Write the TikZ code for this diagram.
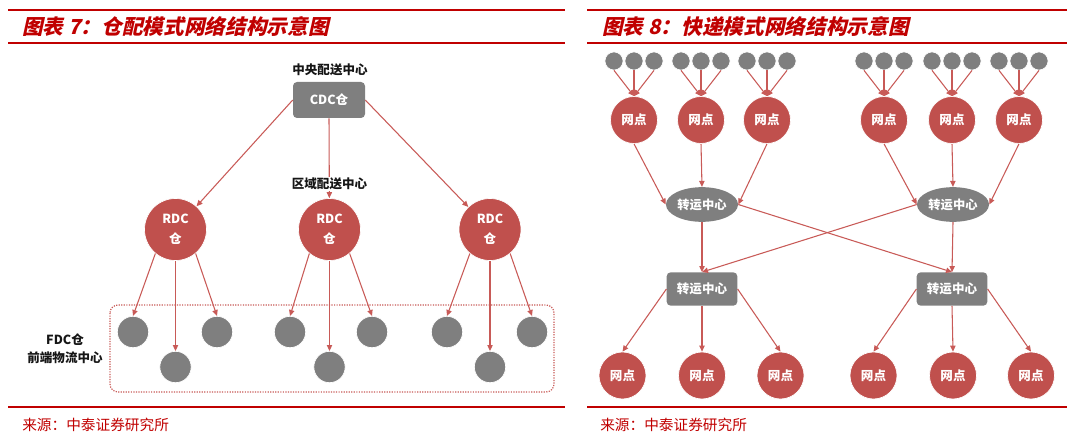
\documentclass[tikz,border=0pt]{standalone}
\usepackage{fontspec}
\usetikzlibrary{arrows.meta, positioning, shapes.geometric}
\newfontfamily\cjk{Noto Sans CJK SC}
\newfontfamily\cjkslant[FakeSlant=0.22]{Noto Sans CJK SC}
\definecolor{nodered}{HTML}{C0504D}
\definecolor{linkred}{HTML}{C85A57}
\definecolor{hubgray}{HTML}{7F7F7F}
\definecolor{titlered}{HTML}{C00000}
\definecolor{ink}{HTML}{161616}
\tikzset{
  font=\cjk,
  >={Triangle[length=4.5pt, width=4pt]},
  %
  depot/.style={circle, fill=nodered, draw=white, line width=0.5pt,
    text=white, inner sep=0pt, align=center,
    font=\cjk\bfseries\fontsize{9.4}{15}\selectfont},
  rdc/.style={depot, minimum size=46.5pt},
  wd/.style={depot, minimum size=35.25pt},
  fdc/.style={circle, fill=hubgray, draw=white, line width=0.5pt,
    minimum size=23.5pt, inner sep=0pt},
  dot/.style={fdc, minimum size=13.6pt},
  hubbox/.style={rectangle, rounded corners=3pt, fill=hubgray, text=white,
    inner sep=0pt, font=\cjk\bfseries\fontsize{9.4}{11}\selectfont},
  hubell/.style={ellipse, fill=hubgray, text=white, inner sep=0pt,
    minimum width=54pt, minimum height=26pt,
    font=\cjk\bfseries\fontsize{9.2}{11}\selectfont},
  %
  link/.style={draw=linkred, line width=0.8pt, ->},
  frame/.style={draw=linkred, line width=0.9pt, densely dotted, rounded corners=6pt},
  %
  tier/.style={text=ink, inner sep=1pt, align=center,
    font=\cjk\bfseries\fontsize{9.4}{13.5}\selectfont},
  heading/.style={text=titlered, anchor=west, inner sep=0pt,
    font=\cjkslant\bfseries\fontsize{15.5}{18}\selectfont},
  source/.style={text=titlered, anchor=west, inner sep=0pt,
    font=\cjk\fontsize{11}{13}\selectfont},
  thickrule/.style={draw=titlered, line width=2.2pt},
  thinrule/.style={draw=titlered, line width=0.8pt},
}
\begin{document}
\begin{tikzpicture}[x=0.75pt, y=-0.75pt]
\useasboundingbox (0,0) rectangle (1080,442);

% =========================================================================
% left panel: warehouse distribution
\begin{scope}
  \draw[thickrule] (8,10) -- (565,10);
  \draw[thinrule] (8,43) -- (565,43);
  \draw[thinrule] (8,407) -- (565,407);
  \node[heading] (titleL) at (22,27) {图表 7：仓配模式网络结构示意图};
  \node[source] (srcL) at (22,425) {来源：中泰证券研究所};

  \draw[frame] (110,305) rectangle (554,392);

  \node[hubbox, minimum width=54pt, minimum height=27pt] (cdc) at (329,100) {CDC仓};
  \node[rdc] (rdcL) at (175.5,229.5) {RDC\\仓};
  \node[rdc] (rdcM) at (329.5,229.5) {RDC\\仓};
  \node[rdc] (rdcR) at (490,229.5) {RDC\\仓};

  \node[fdc] (fdcL1) at (133,332) {};
  \node[fdc] (fdcL2) at (175.5,367) {};
  \node[fdc] (fdcL3) at (217,332) {};
  \node[fdc] (fdcM1) at (290,332) {};
  \node[fdc] (fdcM2) at (329.5,367) {};
  \node[fdc] (fdcM3) at (372,332) {};
  \node[fdc] (fdcR1) at (447,332) {};
  \node[fdc] (fdcR2) at (490,367) {};
  \node[fdc] (fdcR3) at (532,332) {};

  \draw[link] (cdc.west) -- (rdcL);
  \draw[link] (cdc.south) -- (rdcM);
  \draw[link] (cdc.east) -- (rdcR);

  \draw[link] (rdcL.230) -- (fdcL1.north);
  \draw[link] (rdcL.south) -- (fdcL2.north);
  \draw[link] (rdcL.310) -- (fdcL3.north);
  \draw[link] (rdcM.230) -- (fdcM1.north);
  \draw[link] (rdcM.south) -- (fdcM2.north);
  \draw[link] (rdcM.310) -- (fdcM3.north);
  \draw[link] (rdcR.230) -- (fdcR1.north);
  \draw[link] (rdcR.south) -- (fdcR2.north);
  \draw[link] (rdcR.310) -- (fdcR3.north);

  \node[tier] (lblCDC) at (330,70) {中央配送中心};
  \node[tier, fill=white] (lblRDC) at (329.5,184) {区域配送中心};
  \node[tier] (lblFDC) at (65,349) {FDC仓\\前端物流中心};
\end{scope}

% =========================================================================
% right panel: express delivery
\begin{scope}
  \draw[thickrule] (587,10) -- (1067,10);
  \draw[thinrule] (587,43) -- (1067,43);
  \draw[thinrule] (587,407) -- (1067,407);
  \node[heading] (titleR) at (602,27) {图表 8：快递模式网络结构示意图};
  \node[source] (srcR) at (600,425) {来源：中泰证券研究所};

  % collection points
  \node[dot] (d11) at (614,61) {};  \node[dot] (d12) at (634,61) {};  \node[dot] (d13) at (654,61) {};
  \node[dot] (d21) at (681,61) {};  \node[dot] (d22) at (701,61) {};  \node[dot] (d23) at (721,61) {};
  \node[dot] (d31) at (747,61) {};  \node[dot] (d32) at (767,61) {};  \node[dot] (d33) at (787,61) {};
  \node[dot] (d41) at (864,61) {};  \node[dot] (d42) at (884,61) {};  \node[dot] (d43) at (904,61) {};
  \node[dot] (d51) at (932,61) {};  \node[dot] (d52) at (952,61) {};  \node[dot] (d53) at (972,61) {};
  \node[dot] (d61) at (999,61) {};  \node[dot] (d62) at (1019,61) {}; \node[dot] (d63) at (1039,61) {};

  \node[wd] (np1) at (634,120) {网点};
  \node[wd] (np2) at (701,120) {网点};
  \node[wd] (np3) at (767,120) {网点};
  \node[wd] (np4) at (884,120) {网点};
  \node[wd] (np5) at (952,120) {网点};
  \node[wd] (np6) at (1019,120) {网点};

  \node[hubell] (hub1) at (702,204.5) {转运中心};
  \node[hubell] (hub2) at (953,204.5) {转运中心};
  \node[hubbox, minimum width=53pt, minimum height=25pt] (sort1) at (702,289) {转运中心};
  \node[hubbox, minimum width=53pt, minimum height=25pt] (sort2) at (952,289) {转运中心};

  \node[wd] (nb1) at (622.5,375.5) {网点};
  \node[wd] (nb2) at (702,375.5) {网点};
  \node[wd] (nb3) at (780.5,375.5) {网点};
  \node[wd] (nb4) at (873.5,375.5) {网点};
  \node[wd] (nb5) at (953,375.5) {网点};
  \node[wd] (nb6) at (1031,375.5) {网点};

  \draw[link] (d11.south) -- (np1.north);
  \draw[link] (d12.south) -- (np1.north);
  \draw[link] (d13.south) -- (np1.north);
  \draw[link] (d21.south) -- (np2.north);
  \draw[link] (d22.south) -- (np2.north);
  \draw[link] (d23.south) -- (np2.north);
  \draw[link] (d31.south) -- (np3.north);
  \draw[link] (d32.south) -- (np3.north);
  \draw[link] (d33.south) -- (np3.north);
  \draw[link] (d41.south) -- (np4.north);
  \draw[link] (d42.south) -- (np4.north);
  \draw[link] (d43.south) -- (np4.north);
  \draw[link] (d51.south) -- (np5.north);
  \draw[link] (d52.south) -- (np5.north);
  \draw[link] (d53.south) -- (np5.north);
  \draw[link] (d61.south) -- (np6.north);
  \draw[link] (d62.south) -- (np6.north);
  \draw[link] (d63.south) -- (np6.north);

  \draw[link] (np1.south) -- (hub1.west);
  \draw[link] (np2.south) -- (hub1.north);
  \draw[link] (np3.south) -- (hub1.east);
  \draw[link] (np4.south) -- (hub2.west);
  \draw[link] (np5.south) -- (hub2.north);
  \draw[link] (np6.south) -- (hub2.east);

  \draw[link] (hub1.south) -- (sort1.north);
  \draw[link] (hub1.east) -- (sort2.north);
  \draw[link] (hub2.west) -- (sort1.north);
  \draw[link] (hub2.south) -- (sort2.north);

  \draw[link] (sort1.west) -- (nb1.north);
  \draw[link] (sort1.south) -- (nb2.north);
  \draw[link] (sort1.east) -- (nb3.north);
  \draw[link] (sort2.west) -- (nb4.north);
  \draw[link] (sort2.south) -- (nb5.north);
  \draw[link] (sort2.east) -- (nb6.north);
\end{scope}

\end{tikzpicture}
\end{document}
